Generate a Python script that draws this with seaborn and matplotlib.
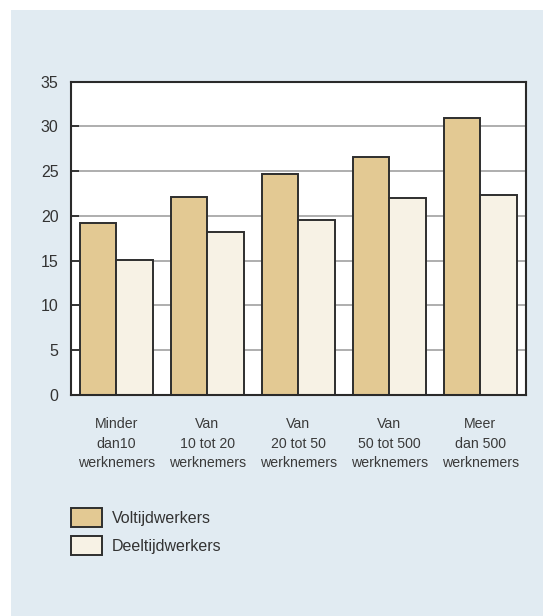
import matplotlib
matplotlib.use("Agg")
import matplotlib.pyplot as plt
import seaborn as sns
import pandas as pd
from matplotlib.patches import Rectangle

categories = ["Minder\ndan10\nwerknemers", "Van\n10 tot 20\nwerknemers", "Van\n20 tot 50\nwerknemers",
              "Van\n50 tot 500\nwerknemers", "Meer\ndan 500\nwerknemers"]
voltijd = [19.2, 22.1, 24.7, 26.6, 30.9]
deeltijd = [15.1, 18.2, 19.6, 22.0, 22.3]
series_names = ["Voltijdwerkers", "Deeltijdwerkers"]
yticks = [0, 5, 10, 15, 20, 25, 30, 35]

df = pd.DataFrame({
    "cat": categories * 2,
    "value": voltijd + deeltijd,
    "serie": [series_names[0]] * 5 + [series_names[1]] * 5,
})

sns.set_theme(style="white")
plt.rcParams["font.family"] = ["Liberation Sans", "DejaVu Sans"]

fig = plt.figure(figsize=(5.43, 6.16), dpi=100)
fig.patch.set_facecolor("white")
fig.patches.append(Rectangle((11 / 543, 0), 1 - 11 / 543, 1 - 10 / 616,
                             transform=fig.transFigure, facecolor="#e1ebf2",
                             edgecolor="none", zorder=-10))

ax = fig.add_axes([71 / 543, 1 - 395 / 616, (525.7 - 71) / 543, (395 - 81.7) / 616])
ax.set_facecolor("white")

sns.barplot(data=df, x="cat", y="value", hue="serie", ax=ax,
            palette=["#e3c993", "#f7f2e5"], edgecolor="#2e2e2e", linewidth=1.4,
            width=0.8, saturation=1, errorbar=None)

ax.set_xlim(-0.5, 4.5)
ax.set_ylim(0, 35)
ax.set_yticks(yticks)
ax.set_axisbelow(True)
ax.yaxis.grid(True, color="#a8a8a8", linewidth=1.3)
ax.xaxis.grid(False)
for s in ax.spines.values():
    s.set_visible(True)
    s.set_color("#2a2a2a")
    s.set_linewidth(1.5)
ax.tick_params(axis="y", direction="in", length=6, width=1.3, color="#2a2a2a",
               labelsize=11.5, labelcolor="#333333", pad=9, left=True)
ax.tick_params(axis="x", length=0, labelsize=10.2, labelcolor="#3a3a3a", pad=16)
for lab in ax.get_xticklabels():
    lab.set_linespacing(1.5)
ax.set_xlabel("")
ax.set_ylabel("")

handles, labels = ax.get_legend_handles_labels()
ax.get_legend().remove()
fig.legend(handles, labels, loc="upper left", bbox_to_anchor=(71 / 543, 1 - 508 / 616),
           frameon=False, fontsize=11.5, handlelength=1.94, handleheight=1.45,
           handletextpad=0.62, labelspacing=0.55, borderpad=0, borderaxespad=0,
           labelcolor="#333333")

fig.savefig("out.png", dpi=100, facecolor=fig.get_facecolor())
